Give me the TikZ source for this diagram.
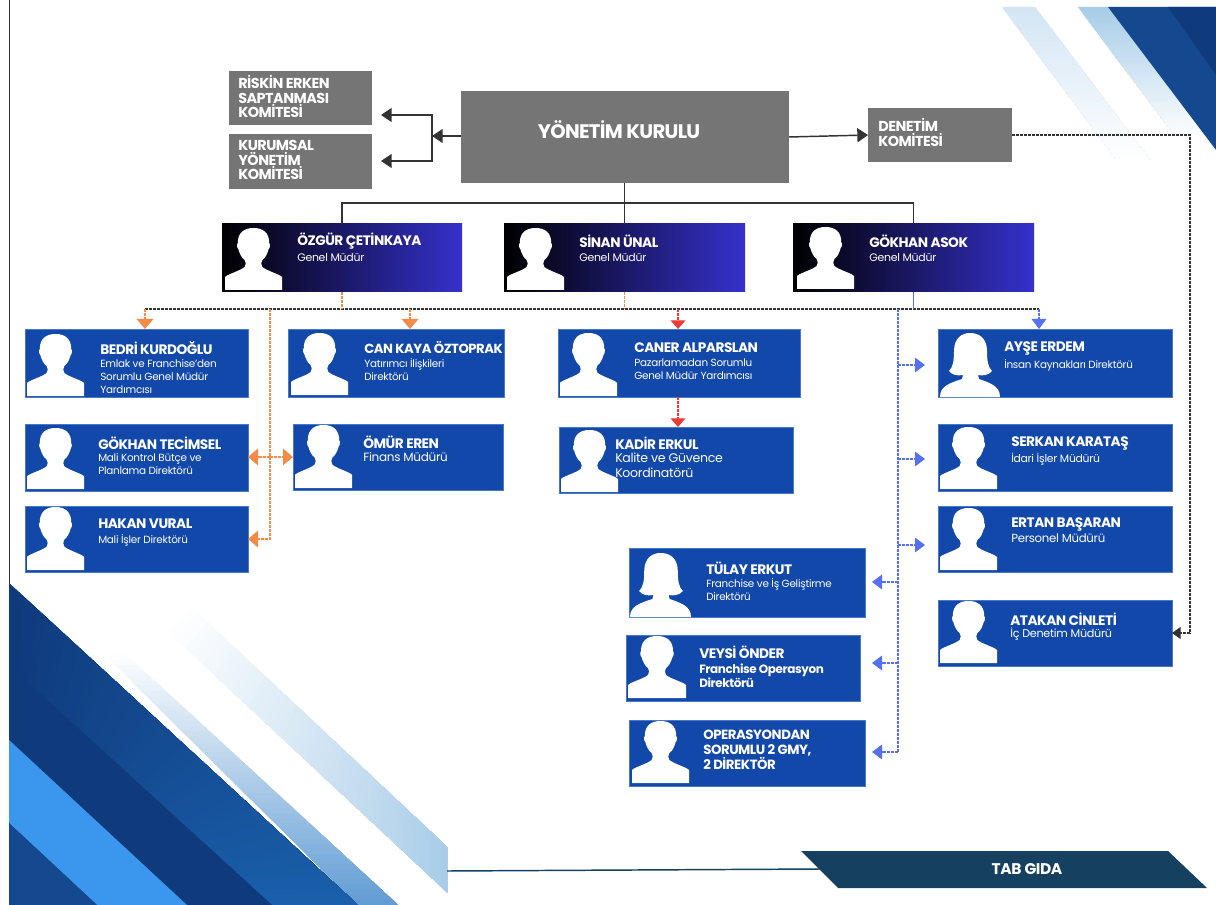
\documentclass[tikz,border=0pt]{standalone}
\usepackage{fontspec}
\setmainfont{Poppins}
\newfontfamily\nmfont[LetterSpace=-3.5]{Poppins}
\newfontfamily\subfont[LetterSpace=-2.5]{Poppins}
\usetikzlibrary{arrows.meta,calc}
\definecolor{gbox}{HTML}{757575}
\definecolor{bbox}{HTML}{1148AA}
\definecolor{bedge}{HTML}{4A78C8}
\definecolor{hA}{HTML}{1F1C84}
\definecolor{hB}{HTML}{3531CC}
\definecolor{orng}{HTML}{F58B46}
\definecolor{rd}{HTML}{EE3A33}
\definecolor{blu}{HTML}{5570F0}
\definecolor{lne}{HTML}{333333}
\definecolor{navyA}{HTML}{0F3A7C}
\definecolor{navyB}{HTML}{1A60AC}
\definecolor{navyC}{HTML}{15498F}
\definecolor{sky}{HTML}{3B96EE}
\definecolor{bann}{HTML}{15405F}
\definecolor{faintA}{HTML}{D3E5F4}
\definecolor{faintB}{HTML}{A7CCE8}
\definecolor{faintC}{HTML}{5F9BD3}
\tikzset{
  box/.style={inner sep=0pt,outer sep=0pt,rectangle},
  gray box/.style={box,fill=gbox},
  blue box/.style={box,fill=bbox,draw=bedge,line width=.4pt},
  head box/.style={box,left color=black,middle color=hA,right color=hB},
  nm/.style={anchor=west,inner sep=0pt,text=white,font=\nmfont\bfseries\fontsize{10.3}{11}\selectfont},
  sb/.style={anchor=north west,inner sep=0pt,text=white,align=left,font=\subfont\fontsize{7.8}{9.75}\selectfont},
  sbbig/.style={sb,font=\subfont\fontsize{9.4}{11.25}\selectfont},
  kom/.style={anchor=north west,inner sep=0pt,text=white,align=left,font=\nmfont\bfseries\fontsize{10.8}{11}\selectfont},
  solidline/.style={lne,line width=1.1pt},
  solidarrow/.style={solidline,-{Triangle[width=10.5pt,length=8pt]}},
  oline/.style={orng,line width=.9pt,dash pattern=on 2pt off 1pt},
  oarrow/.style={oline,-{Triangle[width=12.5pt,length=7.5pt]}},
  rline/.style={rd,line width=.9pt,dash pattern=on 2pt off 1pt},
  rarrow/.style={rline,-{Triangle[width=11pt,length=6.5pt]}},
  bline/.style={blu,line width=.9pt,dash pattern=on 2pt off 1pt},
  barrow/.style={bline,-{Triangle[width=11pt,length=7.5pt]}},
  blackdash/.style={lne,line width=.9pt,dash pattern=on 2pt off 1pt},
  blackarrow/.style={blackdash,-{Triangle[width=9pt,length=6.5pt]}},
}
\newcommand\pbox[6]{%
  \pgfmathsetmacro\boxw{(#4-#2)*0.75}\pgfmathsetmacro\boxh{(#5-#3)*0.75}%
  \node[#6,minimum width=\boxw pt,minimum height=\boxh pt] (#1) at ({(#2+#4)/2},{(#3+#5)/2}) {};}
% male silhouette: left x, top y, right x, bottom y
\newcommand\male[4]{%
  \pgfmathsetmacro\sclx{(#3-#1)/58}\pgfmathsetmacro\scly{(#4-#2)/62}%
  \fill[white,shift={(#1,#2)},xscale=\sclx,yscale=\scly]
   (0,62) -- (0,49) .. controls (3,46) and (15,43) .. (20,39) .. controls (22,37) and (21,34) .. (20,32)
   .. controls (17,30) and (15,26) .. (13.5,21) .. controls (12,20) and (12,16) .. (13,15)
   .. controls (13,5) and (19,0) .. (29,0) .. controls (39,0) and (45,5) .. (45,15)
   .. controls (46,16) and (46,20) .. (44.5,21) .. controls (43,26) and (41,30) .. (38,32)
   .. controls (37,34) and (36,37) .. (38,39) .. controls (43,43) and (55,46) .. (58,49) -- (58,62) -- cycle;}
\newcommand\female[4]{%
  \pgfmathsetmacro\sclx{(#3-#1)/60}\pgfmathsetmacro\scly{(#4-#2)/64}%
  \fill[white,shift={(#1,#2)},xscale=\sclx,yscale=\scly]
   (0,64) .. controls (0,53) and (10,50) .. (22,46) -- (23,42)
   .. controls (17,43) and (12,42) .. (9,38) .. controls (13,34) and (14,28) .. (14,18)
   .. controls (14,5) and (22,0) .. (30,0) .. controls (40,0) and (47,6) .. (47,18)
   .. controls (47,28) and (48,34) .. (52,38) .. controls (49,42) and (43,43) .. (38,42)
   -- (39,46) .. controls (50,50) and (60,53) .. (60,64) -- cycle;}
\newcommand\ptext[6]{% id, x, name y, name, sub y, sub
  \node[nm] (#1-n) at (#2,#3) {#4};
  \node[sb] (#1-s) at (#2,#5) {#6};}
% band fading from edge (1)-(2) to edge (4)-(3), colour #9 to the colour after it
\newcommand\fadeband[8]{\fadebandB{#1}{#2}{#3}{#4}{#5}{#6}{#7}{#8}}
\newcommand\fadebandB[9]{%
  \def\fadeA{#1}\def\fadeB{#2}\def\fadeC{#3}\def\fadeD{#4}\def\fadeE{#5}\def\fadeF{#6}\def\fadeG{#7}\def\fadeH{#8}\def\fadeCa{#9}\fadebandC}
\newcommand\fadebandC[1]{%
  \coordinate (fa) at (\fadeA,\fadeB);\coordinate (fb) at (\fadeC,\fadeD);
  \coordinate (fc) at (\fadeE,\fadeF);\coordinate (fd) at (\fadeG,\fadeH);
  \foreach \i in {0,...,50}{%
    \pgfmathsetmacro\tval{\i/50}\pgfmathsetmacro\pc{100-2*\i}%
    \fill[\fadeCa!\pc!#1] ($(fa)!\tval!(fd)$) -- ($(fb)!\tval!(fc)$) -- (fc) -- (fd) -- cycle;}}
\begin{document}
\begin{tikzpicture}[x=0.75pt,y=-0.75pt]
\useasboundingbox (0,0) rectangle (1216,905);
\fill[white] (0,0) rectangle (1216,905);
% --- decoration, top right
\fadeband{1002}{7}{1035}{7}{1150}{160}{1117}{160}{faintA}{white}
\fadeband{1078}{7}{1108}{7}{1206}{137}{1176}{137}{faintB}{white}
\fill[navyC] (1108,7) -- (1216,7) -- (1216,150) -- cycle;
\fill[navyA] (1168,7) -- (1216,7) -- (1216,75) -- cycle;
% --- decoration, bottom left
\fadeband{100}{650}{121}{650}{398}{905}{358}{905}{white}{faintC}
\fadeband{163}{627}{187}{603}{447}{847}{447}{892}{white}{faintB}
\fill[navyA] (9,583) -- (358,905) -- (9,905) -- cycle;
\fadeband{9}{665}{9}{583}{358}{905}{272}{905}{navyA}{navyB}
\fill[navyA] (9,665) -- (272,905) -- (187,905) -- (9,740) -- cycle;
\fill[sky] (9,740) -- (187,905) -- (97,905) -- (9,823) -- cycle;
\fill[navyC] (9,823) -- (97,905) -- (9,905) -- cycle;
\coordinate (leftTop) at (9.5,0);
\coordinate (leftEnd) at (9.5,583);
\draw[lne,line width=.8pt] (leftTop) -- (leftEnd);
% --- banner
\fill[bann] (801,851) -- (1168,851) -- (1207,888) -- (838,888) -- cycle;
\coordinate (bandEnd) at (447,871);
\coordinate (bannerIn) at (820,869);
\draw[bann,line width=1.1pt] (bandEnd) -- (bannerIn);
\node[inner sep=0pt,text=white,font=\subfont\bfseries\fontsize{11.6}{13}\selectfont] (tab) at (1027,869) {TAB GIDA};
% --- committee boxes
\pbox{yk}{461}{91}{789}{183}{gray box}
\node[inner sep=0pt,text=white,font=\nmfont\bfseries\fontsize{14.7}{16}\selectfont] (yk-t) at (619,130) {YÖNETİM KURULU};
\pbox{risk}{229}{71}{372}{125}{gray box}
\node[kom] (risk-t) at (238,75) {RİSKİN ERKEN\\SAPTANMASI\\KOMİTESİ};
\pbox{kur}{229}{134}{372}{189}{gray box}
\node[kom] (kur-t) at (238,140) {KURUMSAL\\YÖNETİM\\KOMİTESİ};
\pbox{den}{868}{108}{1012}{162}{gray box}
\node[kom] (den-t) at (878,118) {DENETİM\\KOMİTESİ};
% --- general managers
\pbox{oz}{222}{224}{462}{292}{head box}
\pbox{si}{504}{224}{745}{292}{head box}
\pbox{ga}{793}{224}{1034}{292}{head box}
\male{225}{228}{282}{290}\male{507}{228}{564}{290}\male{797}{227}{854}{289}
\ptext{oz}{297}{241}{ÖZGÜR ÇETİNKAYA}{253}{\fontsize{8.2}{10}\selectfont Genel Müdür}
\ptext{si}{579}{241}{SİNAN ÜNAL}{253}{\fontsize{8.2}{10}\selectfont Genel Müdür}
\ptext{ga}{869}{241}{GÖKHAN ASOK}{253}{\fontsize{8.2}{10}\selectfont Genel Müdür}
% --- staff
\pbox{be}{25}{329}{248}{397}{blue box}\male{27}{334}{84}{396}
\ptext{be}{100}{348}{BEDRİ KURDOĞLU}{359}{Emlak ve Franchise’den\\Sorumlu Genel Müdür\\Yardımcısı}
\pbox{ck}{288}{329}{504}{397}{blue box}\male{291}{333}{348}{395}
\ptext{ck}{364}{348}{\fontsize{9.9}{11}\selectfont CAN KAYA ÖZTOPRAK}{358}{Yatırımcı İlişkileri\\Direktörü}
\pbox{gt}{25}{424}{248}{491}{blue box}\male{27}{428}{84}{489}
\ptext{gt}{98}{443}{GÖKHAN TECİMSEL}{453}{Mali Kontrol Bütçe ve\\Planlama Direktörü}
\pbox{oe}{293}{424}{503}{490}{blue box}\male{295}{425}{352}{488}
\ptext{oe}{363}{442}{ÖMÜR EREN}{452}{\fontsize{9}{11}\selectfont Finans Müdürü}
\pbox{hv}{25}{506}{248}{572}{blue box}\male{27}{507}{84}{570}
\ptext{hv}{98}{524}{HAKAN VURAL}{534}{Mali İşler Direktörü}
\pbox{ca}{558}{329}{800}{397}{blue box}\male{560}{333}{617}{396}
\ptext{ca}{634}{348}{CANER ALPARSLAN}{359}{Pazarlamadan Sorumlu\\Genel Müdür Yardımcısı}
\pbox{ke}{559}{427}{793}{493}{blue box}\male{561}{430}{618}{492}
\node[nm] (ke-n) at (615,443) {KADİR ERKUL};
\node[sbbig] (ke-s) at (615,453) {Kalite ve Güvence\\Koordinatörü};
\pbox{ay}{938}{329}{1172}{397}{blue box}\female{940}{333}{1000}{397}
\ptext{ay}{1004}{348}{AYŞE ERDEM}{359}{İnsan Kaynakları Direktörü}
\pbox{sk}{938}{424}{1172}{491}{blue box}\male{940}{427}{997}{489}
\ptext{sk}{1011}{443}{SERKAN KARATAŞ}{453}{\fontsize{8.1}{10}\selectfont İdari İşler Müdürü}
\pbox{eb}{938}{506}{1172}{572}{blue box}\male{940}{508}{997}{570}
\ptext{eb}{1011}{524}{ERTAN BAŞARAN}{534}{\fontsize{8.8}{10}\selectfont Personel Müdürü}
\pbox{ac}{938}{600}{1172}{666}{blue box}\male{940}{601}{997}{663}
\ptext{ac}{1010}{619}{ATAKAN CİNLETİ}{628}{\fontsize{8.4}{10}\selectfont İç Denetim Müdürü}
\pbox{te}{629}{548}{865}{617}{blue box}\female{630}{553}{691}{617}
\ptext{te}{706}{568}{TÜLAY ERKUT}{578}{Franchise ve İş Geliştirme\\Direktörü}
\pbox{vo}{626}{635}{860}{701}{blue box}\male{628}{636}{686}{698}
\node[kom,font=\nmfont\bfseries\fontsize{9}{10.8}\selectfont] (vo-t) at (699,646) {{\fontsize{10.3}{10.8}\selectfont VEYSİ ÖNDER}\\Franchise Operasyon\\Direktörü};
\pbox{op}{629}{720}{865}{786}{blue box}\male{632}{721}{689}{783}
\node[kom,font=\nmfont\bfseries\fontsize{10}{11.25}\selectfont] (op-t) at (703,730) {OPERASYONDAN\\SORUMLU 2 GMY,\\2 DİREKTÖR};
% --- solid connectors
\coordinate (jn) at (432,136);
\coordinate (jnT) at (432,115);
\coordinate (jnB) at (432,161);
\coordinate (rTip) at (381,115);
\coordinate (kTip) at (381,161);
\draw[solidarrow] (yk.west |- jn) -- (jn);
\draw[solidarrow] (jn) -- (jnT) -- (rTip);
\draw[solidarrow] (jn) -- (jnB) -- (kTip);
\draw[solidarrow] (yk.east) -- (den.west);
\coordinate (barM) at (625,203);
\draw[solidline] (yk.south -| si.north) -- (si.north);
\draw[solidline] (oz.north) -- (oz.north |- barM) -- (ga.north |- barM) -- (ga.north);
% --- bus
\coordinate (busY) at (0,309);
\coordinate (busL) at (145,309);
\coordinate (busC) at (410,309);
\coordinate (busO) at (270,309);
\coordinate (busR) at (678,309);
\coordinate (busB) at (898,309);
\coordinate (busE) at (1039,309);
\draw[blackdash] (busL) -- (busE);
\draw[oline] (oz.south) -- (oz.south |- busY);
\draw[oline] (si.south) -- (si.south |- busY);
\draw[blu,line width=1.3pt] (ga.south) -- (ga.south |- busY);
\draw[oarrow] (busL) -- (busL |- be.north);
\draw[oarrow] (busC) -- (busC |- ck.north);
\draw[rarrow] (busR) -- (busR |- ca.north);
\draw[rarrow] (busR |- ca.south) -- (busR |- ke.north);
\draw[barrow] (busE) -- (busE |- ay.north);
% orange branch
\coordinate (oMid) at (270,457);
\draw[oline] (busO) -- (oMid);
\draw[oarrow] (oMid) -- (oMid -| gt.east);
\draw[oarrow] (oMid) -- (oMid -| oe.west);
\draw[oarrow] (oMid) -- (busO |- hv.east) -- (hv.east);
% blue branch
\coordinate (bEnd) at (898,752);
\draw[bline] (busB) -- (bEnd);
\coordinate (r1) at (925,365);
\coordinate (r2) at (925,459);
\coordinate (r3) at (925,545);
\coordinate (l1) at (872,582);
\coordinate (l2) at (872,663);
\coordinate (l3) at (872,752);
\draw[barrow] (busB |- r1) -- (r1);
\draw[barrow] (busB |- r2) -- (r2);
\draw[barrow] (busB |- r3) -- (r3);
\draw[barrow] (busB |- l1) -- (l1);
\draw[barrow] (busB |- l2) -- (l2);
\draw[barrow] (bEnd) -- (l3);
% audit
\coordinate (auCorner) at (1190,135);
\draw[blackarrow] (den.east |- auCorner) -- (auCorner) -- (auCorner |- ac.east) -- (ac.east);
\end{tikzpicture}
\end{document}
